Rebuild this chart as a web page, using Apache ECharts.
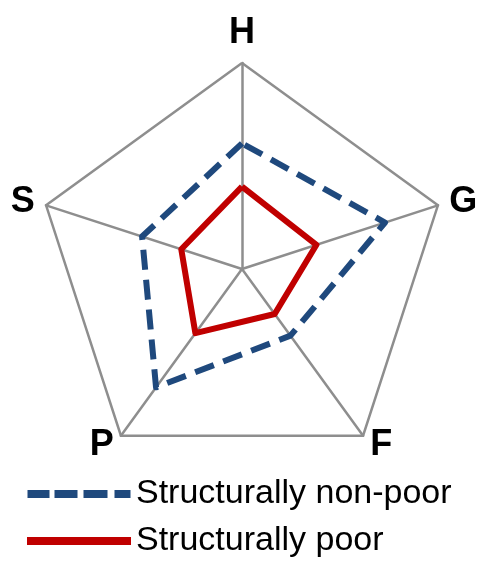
<!DOCTYPE html>
<html>
<head>
<meta charset="utf-8">
<script src="https://cdn.jsdelivr.net/npm/echarts@6/dist/echarts.min.js"></script>
<style>
html,body{margin:0;padding:0;background:#fff;}
#chart{width:479px;height:561px;}
</style>
</head>
<body>
<div id="chart"></div>
<script>
// Indicators listed counter-clockwise from the top
const categories = ['H', 'S', 'P', 'F', 'G'];
const nonPoorValues = [61, 51, 71, 40, 73];
const poorValues = [40, 31, 38.5, 27, 38];
const seriesNames = ['Structurally non-poor', 'Structurally poor'];
const axisMax = 100;

const FONT = '"Liberation Sans", Arial, sans-serif';
const chart = echarts.init(document.getElementById('chart'), null, {renderer: 'canvas'});

chart.setOption({
  backgroundColor: '#ffffff',
  animation: false,
  legend: {
    orient: 'vertical',
    left: 27,
    top: 477,
    width: 450,
    height: 84,
    padding: 0,
    itemWidth: 104,
    itemHeight: 8,
    itemGap: 13,
    selectedMode: false,
    textStyle: {fontFamily: FONT, fontSize: 34, color: '#000', lineHeight: 34},
    data: [
      {name: seriesNames[0], icon: 'path://M0,0h22v8h-22z M27,0h23v8h-23z M56,0h24v8h-24z M87,0h16v8h-16z',
       itemStyle: {color: '#1F497D'}},
      {name: seriesNames[1], icon: 'path://M0,0h104v8h-104z', itemStyle: {color: '#C00000'}}
    ]
  },
  radar: {
    center: [242, 269],
    radius: 206,
    startAngle: 90,
    shape: 'polygon',
    splitNumber: 1,
    indicator: categories.map(n => ({name: n, min: 0, max: axisMax})),
    axisName: {color: '#000', fontFamily: FONT, fontSize: 36, fontWeight: 'bold'},
    nameGap: 12,
    axisLine: {lineStyle: {color: '#8E8E8E', width: 2.5}},
    splitLine: {lineStyle: {color: '#8E8E8E', width: 2.5}},
    splitArea: {show: false},
    axisTick: {show: false},
    axisLabel: {show: false}
  },
  series: [{
    type: 'radar',
    symbol: 'none',
    data: [
      {name: seriesNames[0], value: nonPoorValues,
       lineStyle: {color: '#1F497D', width: 6, type: [20, 10]},
       itemStyle: {color: '#1F497D'}},
      {name: seriesNames[1], value: poorValues,
       lineStyle: {color: '#C00000', width: 6, type: 'solid'},
       itemStyle: {color: '#C00000'}}
    ]
  }]
});
</script>
</body>
</html>
